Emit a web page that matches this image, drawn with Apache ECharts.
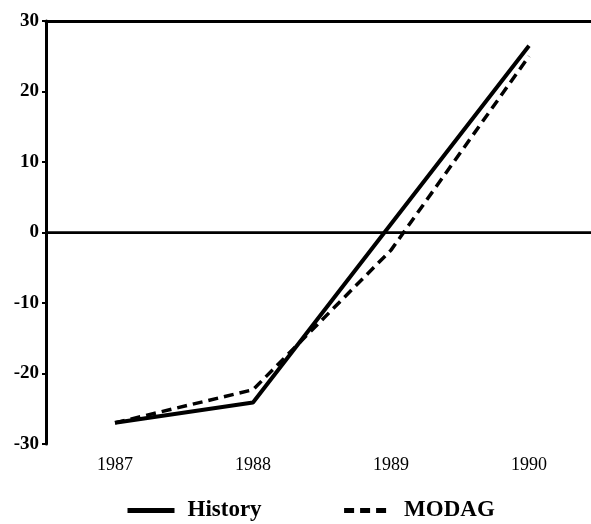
<!DOCTYPE html>
<html>
<head>
<meta charset="utf-8">
<script src="https://cdn.jsdelivr.net/npm/echarts@6/dist/echarts.min.js"></script>
<style>
  html, body { margin: 0; padding: 0; background: #fff; }
  #chart { width: 591px; height: 524px; }
</style>
</head>
<body>
<div id="chart"></div>
<script>
const years = ['1987', '1988', '1989', '1990']
const history = [-27, -24.1, 1.2, 26.5]
const modag = [-27, -22.3, -2.5, 25]

const chart = echarts.init(document.getElementById('chart'))

const serif = '"Liberation Serif", "DejaVu Serif", serif'

const option = {
  animation: false,
  backgroundColor: '#fff',
  grid: {
    left: 46,
    top: 21,
    width: 552,
    height: 423,
    outerBoundsMode: 'none'
  },
  legend: {
    bottom: 2,
    left: 125,
    padding: 0,
    itemWidth: 47,
    itemHeight: 12,
    itemGap: 80,
    itemStyle: { opacity: 0 },
    lineStyle: { width: 5 },
    textStyle: {
      fontFamily: serif, fontSize: 23, fontWeight: 'bold', color: '#000',
      padding: [0, 0, 0, 8]
    },
    data: ['History', 'MODAG']
  },
  xAxis: [
    {
      type: 'category',
      data: years,
      boundaryGap: true,
      axisLine: { lineStyle: { color: '#000', width: 2.5 } },
      axisTick: { alignWithLabel: true, length: 4, lineStyle: { color: '#000', width: 2 } },
      axisLabel: { fontFamily: serif, fontSize: 18, color: '#000', margin: 12 }
    },
    {
      type: 'category',
      data: years,
      position: 'top',
      axisLine: { lineStyle: { color: '#000', width: 3 } },
      axisTick: { show: false },
      axisLabel: { show: false }
    }
  ],
  yAxis: {
    type: 'value',
    min: -30,
    max: 30,
    interval: 10,
    axisLine: { show: true, lineStyle: { color: '#000', width: 3 } },
    axisTick: { show: true, length: 4, lineStyle: { color: '#000', width: 2 } },
    axisLabel: { fontFamily: serif, fontSize: 19, fontWeight: 'bold', color: '#000', margin: 7 },
    splitLine: { show: false }
  },
  series: [
    {
      name: 'History',
      type: 'line',
      data: history,
      symbol: 'none',
      lineStyle: { color: '#000', width: 4 },
      itemStyle: { color: '#000' },
      markLine: {
        silent: true,
        symbol: 'none',
        label: { show: false },
        lineStyle: { color: '#000', width: 2, type: 'solid' },
        data: [{ yAxis: 0 }]
      }
    },
    {
      name: 'MODAG',
      type: 'line',
      data: modag,
      symbol: 'none',
      lineStyle: { color: '#000', width: 3.5, type: [10, 6] },
      itemStyle: { color: '#000' }
    }
  ]
}

chart.setOption(option)
</script>
</body>
</html>
